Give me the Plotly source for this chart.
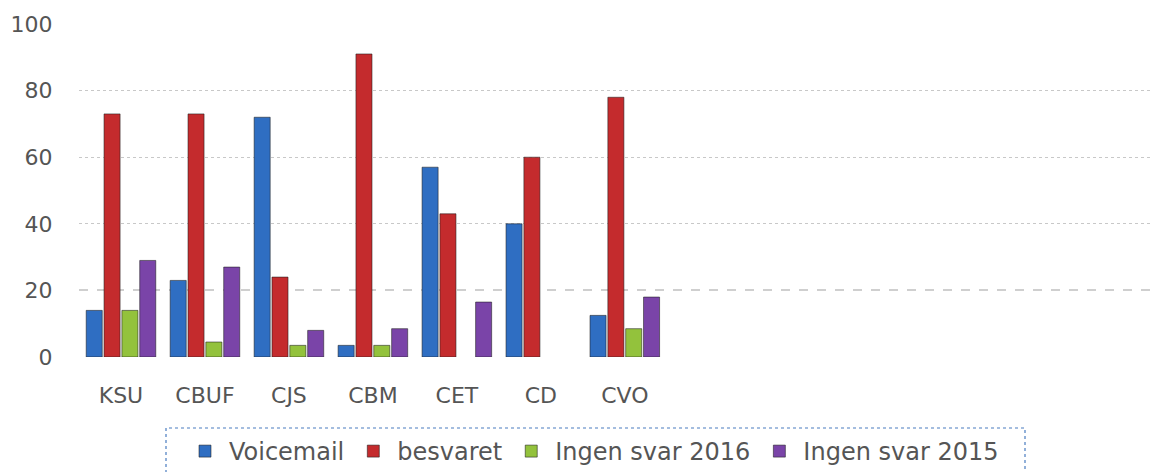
import plotly.graph_objects as go

categories = ["KSU", "CBUF", "CJS", "CBM", "CET", "CD", "CVO"]
voicemail = [14, 23, 72, 3.5, 57, 40, 12.5]
besvaret = [73, 73, 24, 91, 43, 60, 78]
ingen_2016 = [14, 4.5, 3.5, 3.5, None, None, 8.5]
ingen_2015 = [29, 27, 8, 8.5, 16.5, None, 18]
y_ticks = [0, 20, 40, 60, 80, 100]

series = [
    ("Voicemail", voicemail, "#2f6ec2"),
    ("besvaret", besvaret, "#c42b2d"),
    ("Ingen svar 2016", ingen_2016, "#93c23c"),
    ("Ingen svar 2015", ingen_2015, "#7a44a8"),
]

xpos = list(range(len(categories)))
fig = go.Figure()
# invisible traces to activate the grid-only axes
fig.add_trace(go.Scatter(x=[None], y=[None], yaxis="y2", showlegend=False, hoverinfo="skip"))
fig.add_trace(go.Scatter(x=[None], y=[None], yaxis="y3", showlegend=False, hoverinfo="skip"))
for name, vals, col in series:
    fig.add_trace(go.Bar(
        x=xpos, y=vals, name=name,
        marker=dict(color=col, line=dict(color="rgba(30,30,30,0.55)", width=1)),
    ))

font_fam = "DejaVu Sans"
OFF = 8  # default page body margin
W, H = 1160 - OFF, 472 - OFF
L, T = 79 - OFF, 24 - OFF
R = W - (1158 - OFF)
B = H - (357 - OFF)
pw, ph = W - L - R, H - T - B


def px_to_paper_y(py):
    return ((357 - OFF) - (py - OFF)) / ph


def px_to_paper_x(px):
    return ((px - OFF) - L) / pw


fig.update_layout(
    width=W, height=H,
    margin=dict(l=L, r=R, t=T, b=B, autoexpand=False),
    plot_bgcolor="white", paper_bgcolor="white",
    barmode="group", bargap=0.15, bargroupgap=0.1,
    font=dict(family=font_fam, size=22, color="#555555"),
    showlegend=True,
    legend=dict(
        orientation="h", x=px_to_paper_x(181), xanchor="left",
        y=px_to_paper_y(429), yanchor="top",
        itemwidth=38,
        font=dict(family=font_fam, size=24, color="#555555"),
        bgcolor="rgba(0,0,0,0)", borderwidth=0,
    ),
    xaxis=dict(
        range=[-0.5, 12.35], tickvals=xpos, ticktext=categories,
        showgrid=False, zeroline=False, showline=False,
        ticks="outside", ticklen=19, tickcolor="rgba(0,0,0,0)",
        tickfont=dict(family=font_fam, size=22, color="#555555"),
    ),
    yaxis=dict(
        range=[0, 100], tickvals=y_ticks, showgrid=False, zeroline=False,
        ticks="outside", ticklen=21, tickcolor="rgba(0,0,0,0)",
        tickfont=dict(family=font_fam, size=22, color="#555555"),
    ),
    yaxis2=dict(
        range=[0, 100], overlaying="y", tickvals=[0, 40, 60, 80, 100],
        showticklabels=False, showgrid=True, gridcolor="#c8c8c8",
        griddash="dot", gridwidth=1, zeroline=False, ticks="",
    ),
    yaxis3=dict(
        range=[0, 100], overlaying="y", tickvals=[20],
        showticklabels=False, showgrid=True, gridcolor="#cfcfcf",
        griddash="dash", gridwidth=1.5, zeroline=False, ticks="",
    ),
)

# dotted legend frame
fig.add_shape(type="rect", xref="paper", yref="paper",
              x0=px_to_paper_x(166), x1=px_to_paper_x(1025),
              y0=px_to_paper_y(480), y1=px_to_paper_y(428),
              line=dict(color="#4a7cc0", width=1.2, dash="dot"),
              fillcolor="rgba(0,0,0,0)", layer="above")

fig.write_html("out.html")
